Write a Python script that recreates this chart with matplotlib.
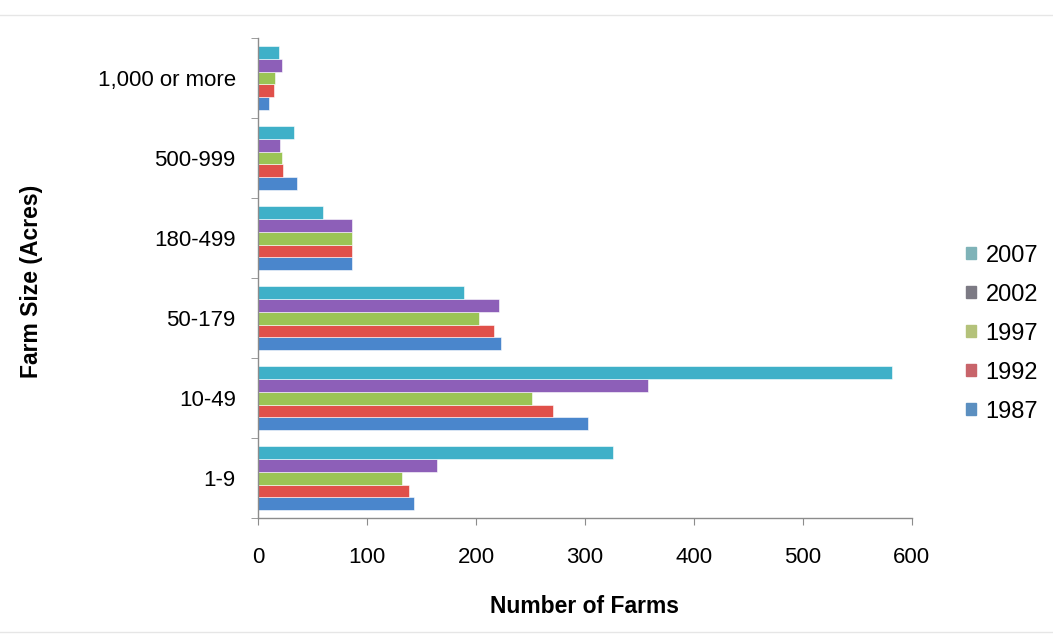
import numpy as np
import matplotlib
matplotlib.use("Agg")
import matplotlib.pyplot as plt
from matplotlib.lines import Line2D

# data
categories = ["1-9", "10-49", "50-179", "180-499", "500-999", "1,000 or more"]
years = ["1987", "1992", "1997", "2002", "2007"]
farms_1987 = [143, 303, 223, 86, 36, 10]
farms_1992 = [139, 271, 217, 86, 23, 15]
farms_1997 = [132, 251, 203, 86, 22, 16]
farms_2002 = [164, 358, 221, 86, 20, 22]
farms_2007 = [326, 582, 189, 60, 33, 19]

series = [farms_1987, farms_1992, farms_1997, farms_2002, farms_2007]
colors = ["#4a86cc", "#e0504a", "#9bc455", "#8d5fb8", "#3fb0c8"]
legend_colors = ["#5b8fc0", "#c8646a", "#b4c27a", "#7c7a84", "#7fb3b8"]

plt.rcParams["font.family"] = ["Liberation Sans", "DejaVu Sans"]

fig = plt.figure(figsize=(10.53, 6.39), dpi=100)
ax = fig.add_axes([0.245, 0.189, 0.621, 0.7515])

y = np.arange(len(categories))
h = 0.16
for i, vals in enumerate(series):
    ax.barh(y + (i - 2) * h, vals, height=h, color=colors[i],
            edgecolor="white", linewidth=0.4)

ax.set_xlim(0, 600)
ax.set_ylim(-0.5, len(categories) - 0.5)
ax.set_xticks(range(0, 601, 100))
ax.set_yticks(y)
ax.set_yticklabels(categories)
ax.set_yticks(np.arange(-0.5, len(categories), 1), minor=True)

for s in ["top", "right"]:
    ax.spines[s].set_visible(False)
for s in ["left", "bottom"]:
    ax.spines[s].set_color("#8c8c8c")
    ax.spines[s].set_linewidth(1.0)

ax.tick_params(axis="x", length=5, color="#8c8c8c", pad=16, labelsize=16)
ax.tick_params(axis="y", which="major", length=0, pad=16, labelsize=16)
ax.tick_params(axis="y", which="minor", length=5, color="#8c8c8c")

ax.set_xlabel("Number of Farms", fontsize=16.5, fontweight="bold", labelpad=19)
fig.text(0.03, 0.56, "Farm Size (Acres)", rotation=90, fontsize=16.5,
         fontweight="bold", ha="center", va="center")

handles = [plt.Rectangle((0, 0), 1, 1, color=legend_colors[i]) for i in range(5)]
leg = fig.legend(handles[::-1], years[::-1], loc="center left",
                 bbox_to_anchor=(0.917, 0.478), frameon=False, fontsize=17,
                 handlelength=0.45, handleheight=0.45, handletextpad=0.4,
                 labelspacing=0.72, borderpad=0, borderaxespad=0)

# faint frame lines at top and bottom of the image
fig.add_artist(Line2D([0, 1], [0.977, 0.977], color="#e6e6e6", lw=1))
fig.add_artist(Line2D([0, 1], [0.011, 0.011], color="#e6e6e6", lw=1))

fig.savefig("out.png", dpi=100)
